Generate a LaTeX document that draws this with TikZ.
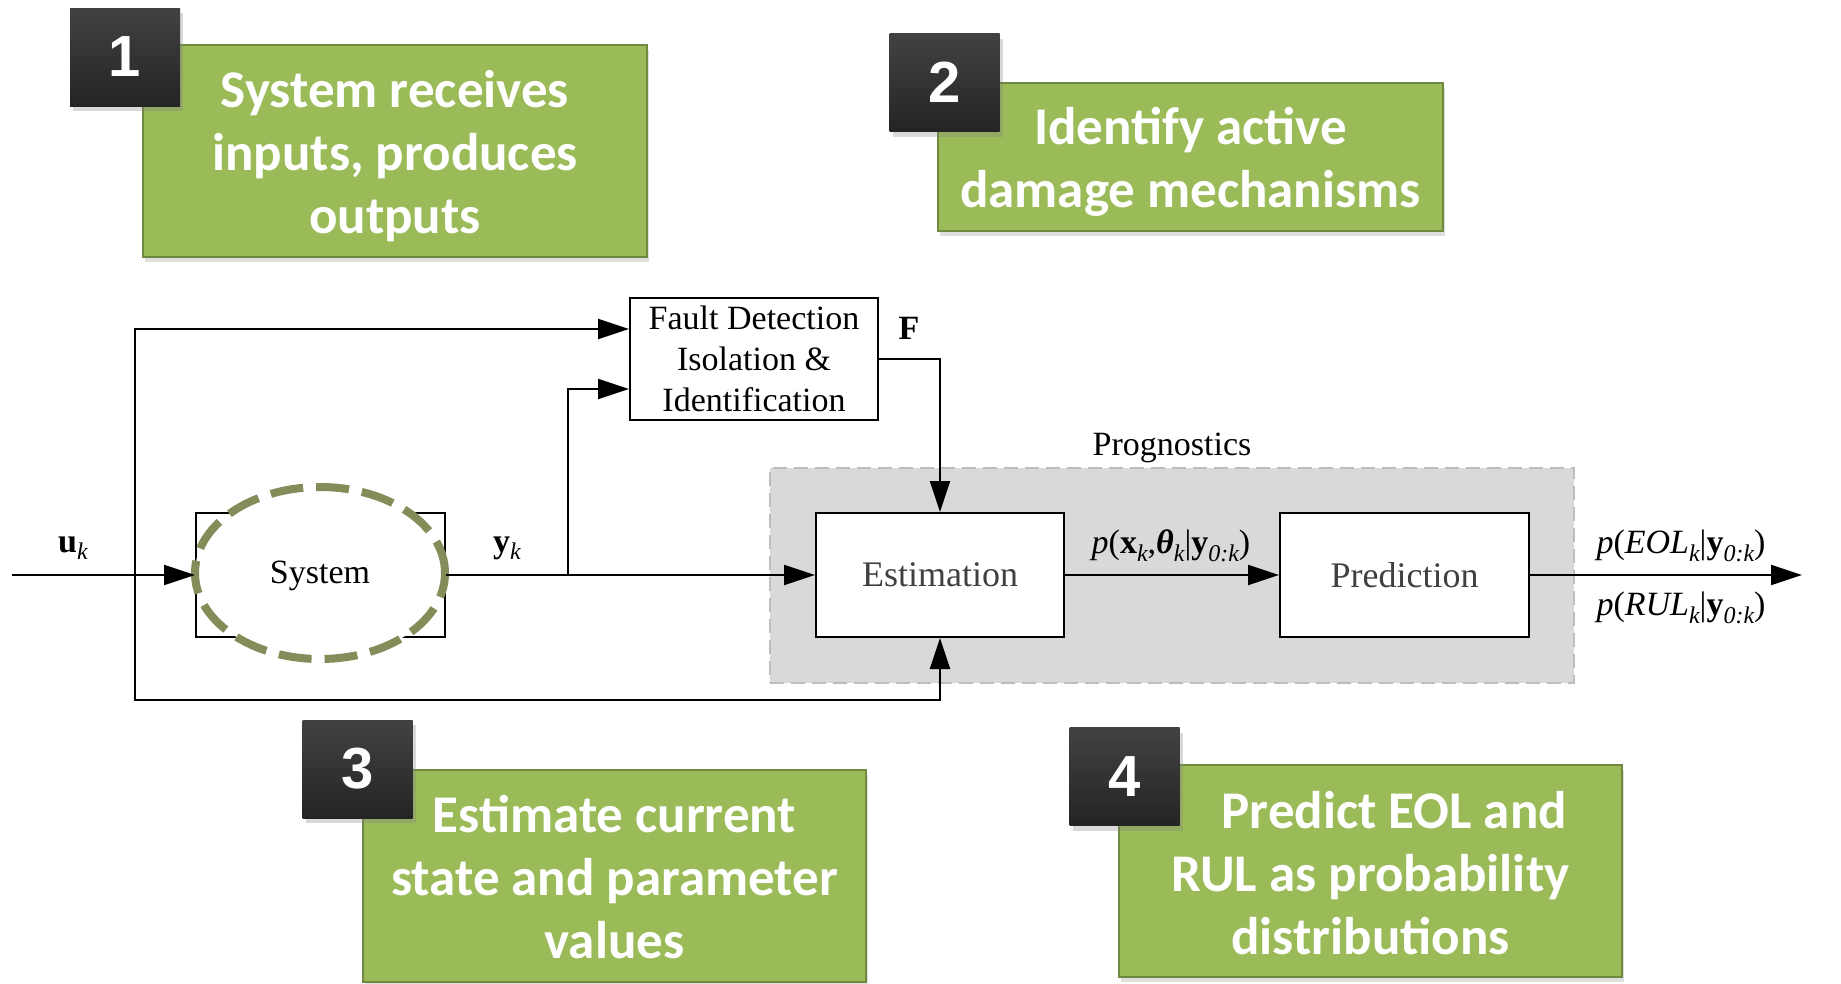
\documentclass[tikz,border=0pt]{standalone}
\usepackage{fontspec}
\setmainfont{Liberation Serif}
\newfontfamily\boxfont{Carlito}
\newfontfamily\numfont{Liberation Sans}
\usetikzlibrary{arrows.meta,shadows,calc,shapes.geometric}

\definecolor{stepgreen}{HTML}{9BBB59}
\definecolor{stepedge}{HTML}{6F8A3E}
\definecolor{sysolive}{HTML}{848C5A}
\definecolor{proggrey}{HTML}{D9D9D9}
\definecolor{progedge}{HTML}{BDBDBD}
\definecolor{blktext}{HTML}{404040}

% small italic subscript
\newcommand\sbt[1]{\raisebox{-0.22em}{\fontsize{24}{24}\selectfont\itshape #1}}

\begin{document}
\begin{tikzpicture}[x=1pt,y=-1pt,
  gbox/.style={draw=stepedge, line width=1.5pt, fill=stepgreen, inner sep=0pt,
    drop shadow={shadow xshift=2pt, shadow yshift=-5pt, opacity=0.25}},
  gtext/.style={text=white, font=\boxfont\bfseries\fontsize{53}{63}\selectfont,
    align=center, inner sep=0pt},
  numbox/.style={top color=black!74, bottom color=black!86, draw=none,
    minimum width=110pt, minimum height=98pt, inner sep=0pt, text=white,
    font=\numfont\bfseries\fontsize{58}{58}\selectfont,
    drop shadow={shadow xshift=3pt, shadow yshift=-5pt, opacity=0.3}},
  blk/.style={draw, line width=2pt, fill=white, inner sep=0pt,
    font=\fontsize{34}{41}\selectfont, align=center},
  conn/.style={line width=2pt, -{Triangle[length=31pt,width=20pt]}},
  lbl/.style={font=\fontsize{34}{41}\selectfont, inner sep=0pt}]

\useasboundingbox (0,0) rectangle (1841,983);

% prognostics area
\node[fill=proggrey, draw=progedge, line width=2pt, dash pattern=on 14pt off 7pt,
  minimum width=804pt, minimum height=215pt, inner sep=0pt] (prog) at (1172,575.5) {};
\node[lbl] (proglbl) at (1172,448) {Prognostics};

% blocks
\node[blk, minimum width=249pt, minimum height=124pt] (sys) at (320.5,575) {};
\node[fill=white, draw=sysolive, line width=8pt, dash pattern=on 33pt off 13pt,
  ellipse, minimum width=250pt, minimum height=172pt, inner sep=0pt] (ring) at (320,573) {};
\node[lbl] (systxt) at (320,576) {System};

\node[blk, minimum width=248pt, minimum height=122pt] (fdi) at (754,359)
  {Fault Detection\\Isolation \&\\Identification};
\node[blk, minimum width=248pt, minimum height=124pt, text=blktext,
  font=\fontsize{36}{41}\selectfont] (est) at (940,575) {Estimation};
\node[blk, minimum width=249pt, minimum height=124pt, text=blktext,
  font=\fontsize{36}{41}\selectfont] (pred) at (1404.5,575) {Prediction};

% junctions and free ends
\coordinate (in) at (12,575);
\coordinate (uj) at (135,575);
\coordinate (yj) at (568,575);
\coordinate (out) at (1802,575);

% connectors
\draw[conn] (in) -- (sys.west);
\draw[conn] (sys.east) -- (est.west);
\draw[conn] (uj) |- ([yshift=30pt]fdi.west);
\draw[conn] (yj) |- ([yshift=-30pt]fdi.west);
\draw[conn] (fdi.east) -| (est.north);
\draw[conn] (uj) -- ++(0,125) -| (est.south);
\draw[conn] (est.east) -- (pred.west);
\draw[conn] (pred.east) -- (out);

% signal labels
\node[lbl] (ulbl) at (73,548) {\textbf{u}\sbt{k}};
\node[lbl] (ylbl) at (507,548) {\textbf{y}\sbt{k}};
\node[lbl] (flbl) at (909,328) {\textbf{F}};
\node[lbl] (xlbl) at (1171,546) {\textit{p}(\textbf{x}\sbt{k},\textbf{\itshape θ}\sbt{k}|\textbf{y}\sbt{0:k})};
\node[lbl] (eollbl) at (1681,546) {\textit{p}(\textit{EOL}\sbt{k}|\textbf{y}\sbt{0:k})};
\node[lbl] (rullbl) at (1681,608) {\textit{p}(\textit{RUL}\sbt{k}|\textbf{y}\sbt{0:k})};

% numbered step callouts
\node[gbox, minimum width=504pt, minimum height=212pt] (g1) at (395,151) {};
\node[gtext] (t1) at (395,156) {System receives\\inputs, produces\\outputs};
\node[numbox] (n1) at (125,57) {1};
\node[gbox, minimum width=505pt, minimum height=148pt] (g2) at (1190.5,157) {};
\node[gtext] (t2) at (1190.5,162) {Identify active\\damage mechanisms};
\node[numbox] (n2) at (944.5,82.5) {2};
\node[gbox, minimum width=503pt, minimum height=212pt] (g3) at (614.5,876) {};
\node[gtext] (t3) at (614.5,877) {Estimate current\\state and parameter\\values};
\node[numbox] (n3) at (357.5,769) {3};
\node[gbox, minimum width=503pt, minimum height=212pt] (g4) at (1370.5,871) {};
\node[gtext] (t4) at (1370.5,873) {\hspace*{0.9em}Predict EOL and\\RUL as probability\\distributions};
\node[numbox] (n4) at (1124.5,776.5) {4};
\end{tikzpicture}
\end{document}
